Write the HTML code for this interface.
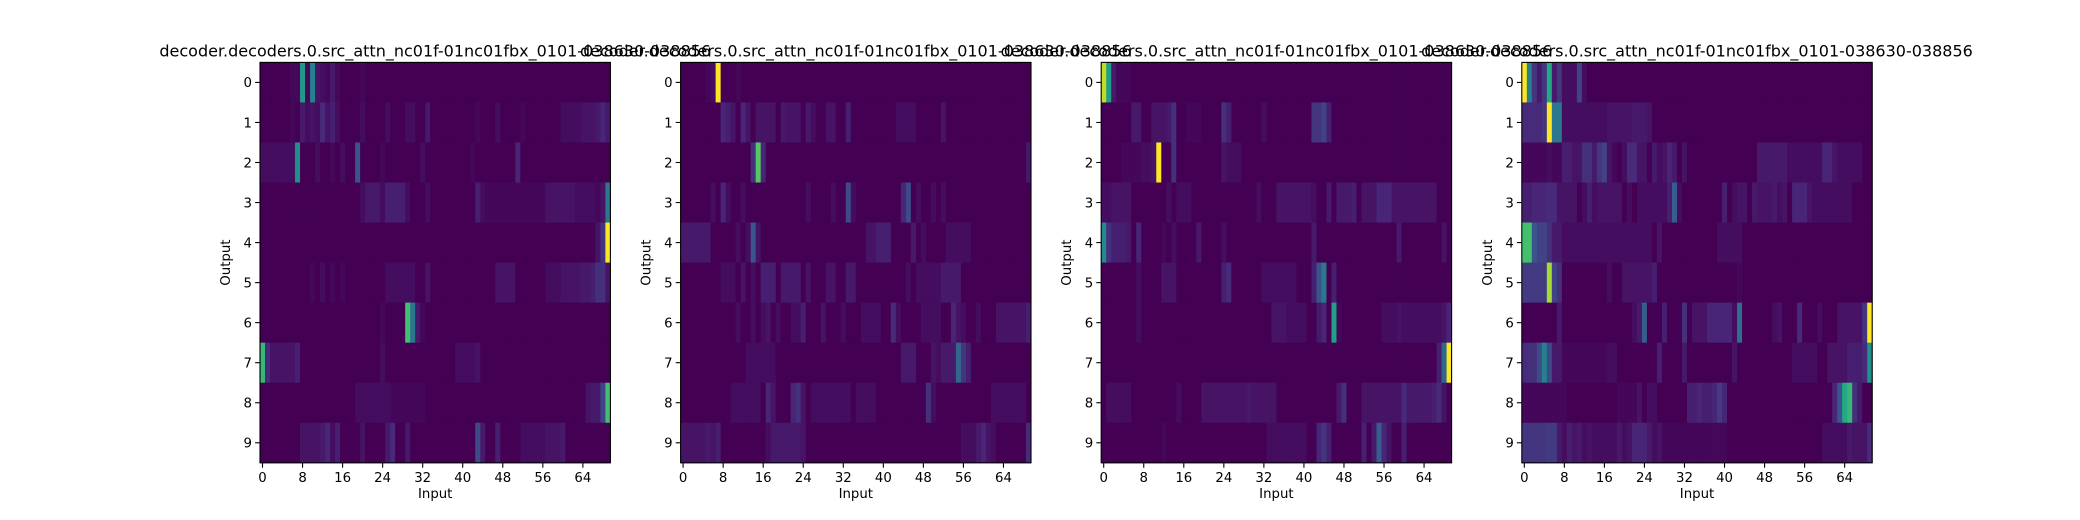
<!DOCTYPE html>
<html><head><meta charset="utf-8"><style>
html,body{margin:0;padding:0;background:#fff;}
svg{display:block;font-family:"DejaVu Sans","Liberation Sans",sans-serif;}
</style></head><body>
<svg id="fig" width="2080" height="520" viewBox="0 0 2080 520" xmlns="http://www.w3.org/2000/svg"></svg>
<script>
const rowLabels = [0,1,2,3,4,5,6,7,8,9];
const xTicks = [0,8,16,24,32,40,48,56,64];
const nCols = 70;
const titles = [
 "decoder.decoders.0.src_attn_nc01f-01nc01fbx_0101-038630-038856",
 "decoder.decoders.0.src_attn_nc01f-01nc01fbx_0101-038630-038856",
 "decoder.decoders.0.src_attn_nc01f-01nc01fbx_0101-038630-038856",
 "decoder.decoders.0.src_attn_nc01f-01nc01fbx_0101-038630-038856"];
// sparse cell values: "col:v" or "a-b:v", v in base36 (0..z) -> v/35
const panel0 = [
 "6-7:1 8:l 9:1 10:i 11:3 12:2 13:1 14:4 15:1 20:1",
 "6:1 8:4 9:2 10:3 11:2 12:7 13:3 14:5 15:2 20:2 25:2 29-30:2 33:4 43:1 47:2 52:1 60-63:2 64-66:3 67:4 68:6 69:4",
 "0-6:2 7:k 11:2 14:1 16:2 19:d 24:1 32:2 42:1 51:6",
 "20:2 21-23:4 24:2 25-28:5 29:2 33:2 43:5 44:2 45-56:1 57-62:3 63-66:2 67:1 68:3 69:h",
 "67:3 68:9 69:z",
 "10:1 12:2 14:1 16:1 25-30:2 33:3 47-50:3 57-59:2 60-63:3 64-65:4 66:5 67-68:8 69:3",
 "24:1 29:q 30:h 31:4 32:1",
 "0:p 1:7 2-6:3 7:5 24:2 39-42:2 43:3",
 "19-25:2 26-32:1 65:3 66-67:4 68:b 69:q",
 "8-11:3 12:4 13:6 14:2 15:5 20:3 25:4 26:7 29:4 43:c 44:4 47:5 52:2 53-56:2 57-59:3 60:4"];
const panel1 = [
 "5:1 6:2 7:z 11:1",
 "8:6 9:5 10:3 12:6 13:3 15-18:3 20:4 21-23:3 25:4 26:2 29-30:3 33:5 43-46:2 52:3",
 "14:8 15:r 16:6 69:4",
 "6:2 8:6 9:2 12:2 25:2 30:2 33:c 34:2 44:6 45:c 47:2 50:2 52:2",
 "0-5:4 11:2 13:2 14:d 15:3 37-38:3 39-41:5 46:4 48:2 53-57:2",
 "8-10:2 12:3 14:2 16-18:5 20-23:4 25:3 29-30:3 33-34:4 45:2 47-51:2 52-55:4",
 "11:2 14:2 16:2 17:3 19:2 22-23:2 24:5 28:3 32:2 36-39:2 42:7 43:2 48-51:2 54:6 55:3 56:2 59:2 63-68:3 69:5",
 "13-18:2 44-46:4 50:3 51:2 52-54:4 55:f 56:9 57:5",
 "10-15:2 17:6 18:3 22:6 23:8 24:3 26-33:2 35-38:2 49:8 50:2 62-68:2",
 "0-4:3 5:4 6:3 7:5 17:2 18-23:4 24:3 56-58:2 59:4 60:6 61:3 62:2 69:7"];
const panel2 = [
 "0:w 1:m 2:4 3-5:1",
 "6-7:4 10-12:3 13:4 14:8 17-19:1 24:8 25:5 32:2 42-43:9 44:b 45:5",
 "4-7:1 8-9:2 10:3 11:z 14:8 24:3 25-27:2",
 "0-1:2 2-5:3 13:2 15-17:2 31:2 35-41:3 42:2 45:4 47-49:4 50:5 52-54:3 55-57:6 58-59:3 60-66:3",
 "0:j 1:8 2-4:5 5:4 7:6 12:1 14:2 19:4 24:2 42:4 59:4 68:3",
 "7:2 12-14:3 24:5 25:7 32-38:2 42:5 43:d 44:h 46:5",
 "7:2 34-36:3 37-40:2 43:4 44:6 46:m 47:1 56-58:2 59:3 60-67:2 68:3 69:6",
 "67:5 68:f 69:z",
 "1-5:2 15:2 20-28:3 29:4 30-34:3 47:4 48:8 52-59:3 60:7 61-65:4 66:5 67:7 68:3",
 "12:1 33-40:2 43:6 44:9 45:5 52:5 54:4 55:e 56:6 57:3 60:5"];
const panel3 = [
 "0:z 1:i 2:9 3:4 4:9 5:n 6:4 7:9 8-10:2 11:b 12:2",
 "0-3:7 4:9 5:z 6-7:h 8-16:2 17-21:3 22-24:4 25:3",
 "0-4:1 5:2 6-7:1 8-9:5 10-11:3 12-13:8 14:4 15:9 16:b 17:3 18:1 20:2 21-22:7 23-24:3 26:4 27:2 28:3 29:6 30:4 32:3 47-52:4 53-59:2 60-61:6 62:3 63-67:2",
 "0-1:5 2-4:6 5-6:7 7-10:3 12:2 13:5 14:2 15-19:3 21:2 23-28:2 29:5 30:e 31:2 40:5 42:2 43-44:3 46:4 47-49:3 50:4 51:2 52:3 54-56:6 57:3 58-65:2",
 "0-1:q 2:d 3-4:b 5:8 6-7:4 8-25:2 27:3 39-43:2",
 "0-4:a 5:v 6:b 7:8 17:2 20-25:3 26:5 43:1",
 "7:4 22:2 23:4 24:e 28:5 32:8 34-36:3 37-41:6 42:2 43:g 50:2 51:3 55:7 59:2 63-67:3 68:9 69:z",
 "0:7 1-2:8 3:c 4:i 5:c 6-7:4 8-16:1 17-18:2 27:5 32:4 42:3 54-58:2 61-64:3 65-67:5 68:7 69:k",
 "0-8:1 19-22:1 23:3 25-26:2 33-34:5 35:6 36-37:5 38:6 39:a 40:6 62:6 63:d 64:n 65:p 66:8 67:4",
 "0-4:9 5-6:a 7:4 8:2 9:5 10:3 11:4 12:2 13:3 14-18:2 19:4 20:2 21:3 22-24:6 25:4 26:2 27:3 28-40:1 60-64:2 65:4 66-68:3 69:7"];
const panels = [panel0, panel1, panel2, panel3];

const VIR = ["#440154","#482475","#414487","#355f8d","#2a788e","#21918c","#22a884","#44bf70","#7ad151","#bddf26","#fde725"];
function hex(h){return [1,3,5].map(i=>parseInt(h.substr(i,2),16));}
function viridis(t){
  t=Math.max(0,Math.min(1,t));
  t = t<0.3 ? t*0.6 : 0.18+(t-0.3)*(0.82/0.7);
  const p=t*10,i=Math.min(9,Math.floor(p)),f=p-i;
  const a=hex(VIR[i]),b=hex(VIR[i+1]);
  return "rgb("+a.map((v,k)=>Math.round(v+(b[k]-v)*f)).join(",")+")";
}
function parseRow(s){
  const out=new Array(nCols).fill(0);
  s.split(/\s+/).filter(Boolean).forEach(tok=>{
    const [r,v]=tok.split(":");const val=parseInt(v,36)/35;
    const [a,b]=r.split("-").map(Number);
    for(let c=a;c<=(isNaN(b)?a:b);c++) out[c]=val;
  });
  return out;
}
const NS="http://www.w3.org/2000/svg";
const svg=document.getElementById("fig");
function mk(tag,attrs,parent){const e=document.createElementNS(NS,tag);for(const k in attrs)e.setAttribute(k,attrs[k]);(parent||svg).appendChild(e);return e;}

const L0=260, DX=420.6, W=350.4, TOP=62.4, H=400.4;
panels.forEach((rows,p)=>{
  const left=L0+p*DX;
  const g=mk("g",{});
  
  
  const cw=W/nCols, rh=H/rowLabels.length;
  const xs=c=>left+c*cw, ys=r=>TOP+r*rh;
  const mat=rows.map(parseRow);
  let mx=0;mat.forEach(r=>r.forEach(v=>{if(v>mx)mx=v;}));
  mat.forEach((row,r)=>row.forEach((v,c)=>{
    const rc=mk("rect",{x:xs(c).toFixed(2),y:ys(r).toFixed(2),width:(cw+0.4).toFixed(2),height:(rh+0.4).toFixed(2),fill:viridis(mx?v/mx:0)},g);
    
    
  }));
  const fr=mk("rect",{x:left,y:TOP,width:W,height:H,fill:"none",stroke:"#000","stroke-width":1.1},g);
  
  
  rowLabels.forEach((lab,r)=>{
    const y=ys(r)+rh/2;
    mk("line",{x1:left-4.9,x2:left,y1:y,y2:y,stroke:"#000","stroke-width":1.1},g);
    const t=mk("text",{x:left-8,y:y+4.8,"text-anchor":"end","font-size":"13.3px",fill:"#000"},g);
    t.textContent=lab;
    
    
  });
  xTicks.forEach(v=>{
    const x=xs(v)+cw/2;
    mk("line",{x1:x,x2:x,y1:TOP+H,y2:TOP+H+4.9,stroke:"#000","stroke-width":1.1},g);
    const t=mk("text",{x:x,y:TOP+H+19,"text-anchor":"middle","font-size":"13.3px",fill:"#000"},g);
    t.textContent=v;
    
    
  });
  const xl=mk("text",{x:left+W/2,y:TOP+H+35,"text-anchor":"middle","font-size":"13.3px",fill:"#000"},g);
  xl.textContent="Input";
  
  
  const yl=mk("text",{x:0,y:0,"text-anchor":"middle","font-size":"13.3px",fill:"#000",transform:"translate("+(left-30)+","+(TOP+H/2)+") rotate(-90)"},g);
  yl.textContent="Output";
  
  
  const tt=mk("text",{x:left+W/2,y:TOP-6,"text-anchor":"middle","font-size":"16px",fill:"#000"},g);
  tt.textContent=titles[p];
  
  
});
</script>
</body></html>
